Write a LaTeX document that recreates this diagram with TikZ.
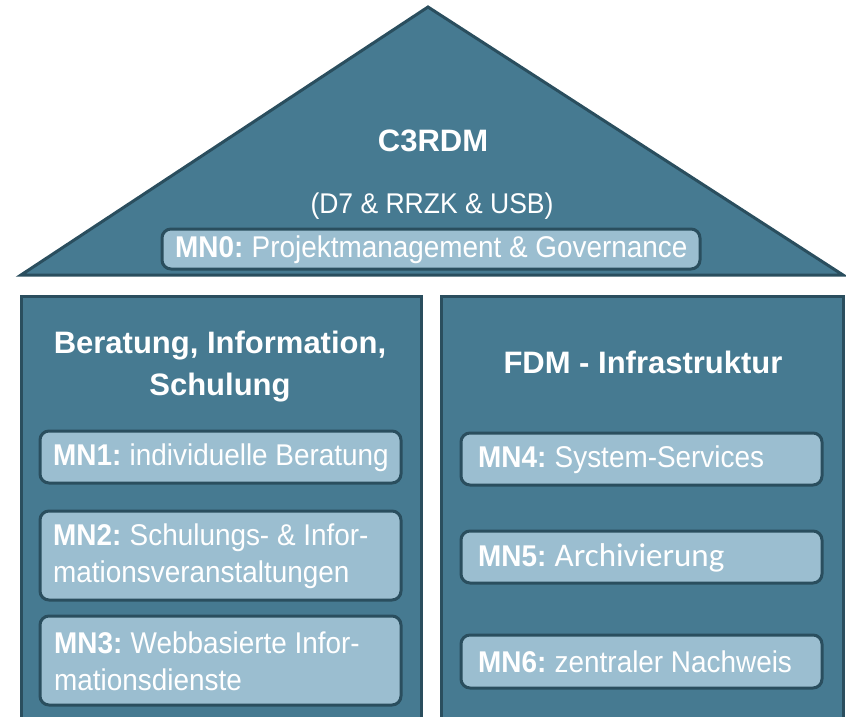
\documentclass[tikz,border=0pt]{standalone}
\usepackage{fontspec}
\setmainfont[FakeStretch=0.93]{Liberation Sans}
\newfontfamily\titlefont{Liberation Sans}
\newfontfamily\calib{Carlito}
\definecolor{mainblue}{HTML}{467A91}
\definecolor{darkline}{HTML}{2A4E5E}
\definecolor{lightblue}{HTML}{9BBED0}
\tikzset{
  x=1pt,y=1pt,
  outer/.style={fill=mainblue,draw=darkline,line width=3pt},
  mnbox/.style={fill=lightblue,draw=darkline,line width=3pt,rounded corners=9pt},
  mntext/.style={text=white,anchor=west,inner sep=0pt,align=left,font=\fontsize{30}{37}\selectfont},
  title/.style={text=white,align=center,inner sep=0pt,font=\titlefont\bfseries\fontsize{31}{42}\selectfont},
}
\newcommand{\mnlabel}[1]{\textbf{#1}\hspace{-2pt}}
\begin{document}
\begin{tikzpicture}
\useasboundingbox (0,0) rectangle (846,-717);
\clip (0,0) rectangle (846,-717);
% roof
\draw[outer,line join=miter] (428,-7) -- (843,-275) -- (21,-275) -- cycle;
\node[title] (c3) at (433,-141) {C3RDM};
\node[text=white,inner sep=0pt,font=\fontsize{28.5}{32}\selectfont] (part) at (432,-206) {(D7 \& RRZK \& USB)};
\draw[mnbox] (162,-229) rectangle (700,-269);
\node[mntext] (mn0) at (175,-250) {\mnlabel{MN0:} Projektmanagement \& Governance};
% pillars
\draw[outer] (21,-296) rectangle (421,-740);
\draw[outer] (441,-296) rectangle (843,-740);
\node[title] (left) at (220,-367) {Beratung, Information,\\Schulung};
\node[title] (right) at (643,-362) {FDM - Infrastruktur};
% left boxes
\draw[mnbox] (40,-431) rectangle (401,-483);
\node[mntext] (mn1) at (53,-458) {\mnlabel{MN1:} individuelle Beratung};
\draw[mnbox] (40,-511) rectangle (401,-600);
\node[mntext] (mn2) at (53,-556) {\mnlabel{MN2:} Schulungs- \& Infor-\\mationsveranstaltungen};
\draw[mnbox] (40,-616) rectangle (401,-705);
\node[mntext] (mn3) at (54,-661) {\mnlabel{MN3:} Webbasierte Infor-\\mationsdienste};
% right boxes
\draw[mnbox] (461,-433) rectangle (822,-485);
\node[mntext] (mn4) at (478,-460) {\mnlabel{MN4:} System-Services};
\draw[mnbox] (461,-531) rectangle (822,-583);
\node[mntext] (mn5) at (478,-558) {\mnlabel{MN5:} {\calib\fontsize{33}{37}\selectfont Archivierung}};
\draw[mnbox] (461,-635) rectangle (822,-688);
\node[mntext] (mn6) at (478,-662) {\mnlabel{MN6:} zentraler Nachweis};
\end{tikzpicture}
\end{document}
